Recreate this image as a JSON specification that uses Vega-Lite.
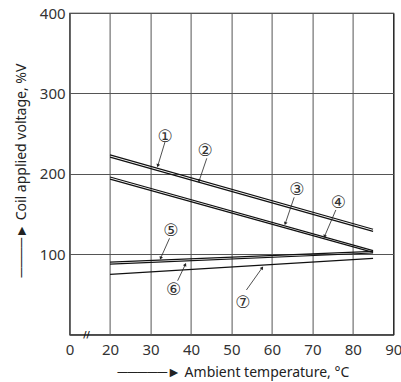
{
  "$schema": "https://vega.github.io/schema/vega-lite/v6.json",
  "width": 323.7,
  "height": 321.5,
  "autosize": {"type": "none"},
  "padding": {"left": 69.6, "top": 13, "right": 7.7, "bottom": 47.5},
  "background": "white",
  "datasets": {
    "lines": [
      {"series": "1", "temp": 20, "volt": 223.4}, {"series": "1", "temp": 85, "volt": 131.0},
      {"series": "2", "temp": 20, "volt": 220.7}, {"series": "2", "temp": 85, "volt": 128.4},
      {"series": "3", "temp": 20, "volt": 196.0}, {"series": "3", "temp": 85, "volt": 104.3},
      {"series": "4", "temp": 20, "volt": 193.3}, {"series": "4", "temp": 85, "volt": 102.2},
      {"series": "5", "temp": 20, "volt": 90.0}, {"series": "5", "temp": 85, "volt": 103.5},
      {"series": "6", "temp": 20, "volt": 87.6}, {"series": "6", "temp": 85, "volt": 101.4},
      {"series": "7", "temp": 20, "volt": 74.9}, {"series": "7", "temp": 85, "volt": 94.8}
    ],
    "labels": [
      {"label": "①", "temp": 33.6, "volt": 245.7},
      {"label": "②", "temp": 43.5, "volt": 228.7},
      {"label": "③", "temp": 66.2, "volt": 179.8},
      {"label": "④", "temp": 76.4, "volt": 164.0},
      {"label": "⑤", "temp": 35.0, "volt": 128.8},
      {"label": "⑥", "temp": 35.7, "volt": 55.4},
      {"label": "⑦", "temp": 52.8, "volt": 38.8}
    ],
    "arrows": [
      {"id": "1", "temp": 33.6, "volt": 239.9, "temp2": 31.8, "volt2": 210},
      {"id": "2", "temp": 43.9, "volt": 219.2, "temp2": 42.0, "volt2": 191},
      {"id": "3", "temp": 65.5, "volt": 170.7, "temp2": 63.3, "volt2": 138},
      {"id": "4", "temp": 75.8, "volt": 154.9, "temp2": 73.0, "volt2": 122},
      {"id": "5", "temp": 34.7, "volt": 119.7, "temp2": 32.5, "volt2": 95},
      {"id": "6", "temp": 36.7, "volt": 66.9, "temp2": 38.6, "volt2": 87},
      {"id": "7", "temp": 53.7, "volt": 55.4, "temp2": 57.6, "volt2": 83}
    ],
    "axisbreak": [{"temp": 14.2, "volt": 0, "mark": "//"}]
  },
  "layer": [
    {
      "data": {"name": "lines"},
      "mark": {"type": "line", "color": "#111", "strokeCap": "butt"},
      "encoding": {
        "x": {
          "field": "temp", "type": "quantitative",
          "scale": {"domain": [10, 90], "nice": false, "zero": false},
          "axis": {
            "values": [10, 20, 30, 40, 50, 60, 70, 80, 90],
            "labelExpr": "datum.value == 10 ? '0' : datum.label",
            "title": "─────► Ambient temperature, °C",
            "titleAlign": "left",
            "titleAnchor": "start",
            "titleX": 47.4,
            "titleY": 42.2,
            "titleBaseline": "alphabetic",
            "labelPadding": 7.5,
            "labelFlush": false
          }
        },
        "y": {
          "field": "volt", "type": "quantitative",
          "scale": {"domain": [0, 400], "nice": false},
          "axis": {
            "values": [0, 100, 200, 300, 400],
            "labelExpr": "datum.value == 0 ? '' : datum.label",
            "title": "────► Coil applied voltage, %V",
            "titleAngle": -90,
            "titleAlign": "left",
            "titleAnchor": "start",
            "titleX": -44.6,
            "titleY": 264,
            "titleBaseline": "alphabetic",
            "labelPadding": 4.5,
            "labelFlush": false
          }
        },
        "detail": {"field": "series"},
        "strokeWidth": {
          "field": "series", "type": "nominal",
          "scale": {"domain": ["1", "2", "3", "4", "5", "6", "7"], "range": [1.2, 1.2, 1.2, 1.2, 3, 3, 1.7]},
          "legend": null
        }
      }
    },
    {
      "data": {"name": "arrows"},
      "mark": {"type": "rule", "color": "#222", "strokeWidth": 0.8},
      "encoding": {
        "x": {"field": "temp", "type": "quantitative"},
        "y": {"field": "volt", "type": "quantitative"},
        "x2": {"field": "temp2"},
        "y2": {"field": "volt2"}
      }
    },
    {
      "data": {"name": "arrows"},
      "transform": [
        {"calculate": "atan2((datum.temp2 - datum.temp) * 4.046, (datum.volt2 - datum.volt) * 0.8037) * 180 / PI", "as": "ang"}
      ],
      "mark": {"type": "point", "shape": "triangle-up", "filled": true, "color": "#222", "size": 14, "opacity": 1},
      "encoding": {
        "x": {"field": "temp2", "type": "quantitative"},
        "y": {"field": "volt2", "type": "quantitative"},
        "angle": {"field": "ang", "type": "quantitative", "scale": null}
      }
    },
    {
      "data": {"name": "labels"},
      "mark": {"type": "text", "font": "DejaVu Sans", "fontSize": 17, "color": "#333", "align": "center", "baseline": "middle"},
      "encoding": {
        "x": {"field": "temp", "type": "quantitative"},
        "y": {"field": "volt", "type": "quantitative"},
        "text": {"field": "label"}
      }
    },
    {
      "data": {"name": "axisbreak"},
      "mark": {"type": "text", "font": "DejaVu Sans", "fontSize": 9, "fontWeight": "bold", "color": "#111", "align": "center", "baseline": "middle", "clip": false},
      "encoding": {
        "x": {"field": "temp", "type": "quantitative"},
        "y": {"field": "volt", "type": "quantitative"},
        "text": {"field": "mark"}
      }
    }
  ],
  "config": {
    "view": {"stroke": "#111", "strokeWidth": 1.2},
    "axis": {
      "domain": false,
      "ticks": false,
      "grid": true,
      "gridColor": "#555",
      "gridWidth": 1,
      "gridOpacity": 1,
      "labelFont": "Noto Sans",
      "labelFontSize": 15,
      "labelColor": "#333",
      "titleFont": "Noto Sans",
      "titleFontSize": 14,
      "titleFontWeight": "normal",
      "titleColor": "#222"
    }
  }
}
